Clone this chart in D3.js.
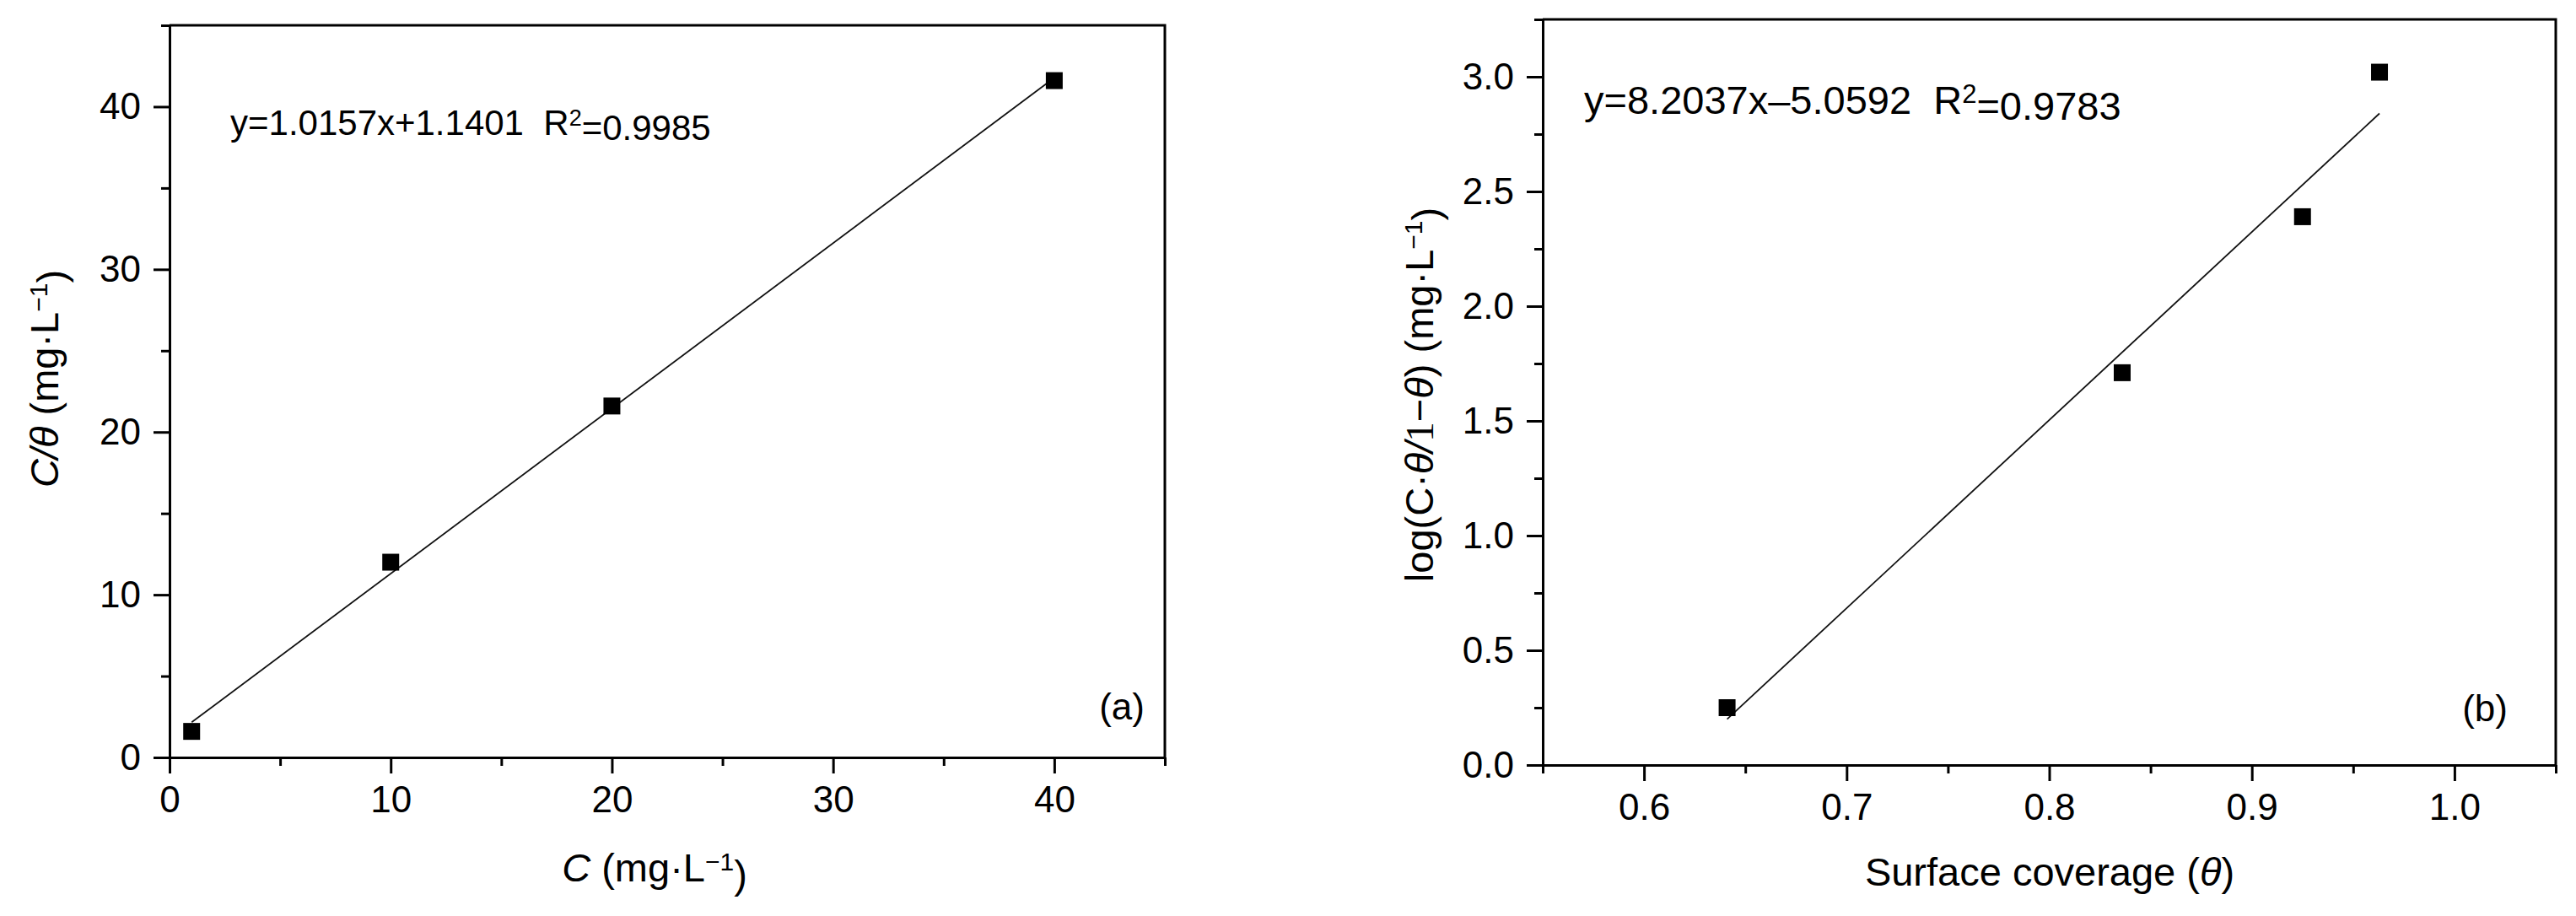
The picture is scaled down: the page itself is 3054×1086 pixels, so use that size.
<!DOCTYPE html>
<html>
<head>
<meta charset="utf-8">
<script src="https://cdn.jsdelivr.net/npm/d3@7"></script>
<style>
body { margin: 0; background: #fff; }
svg text { font-family: "Liberation Sans", Arial, sans-serif; fill: #000; white-space: pre; }
.axis path, .axis line { stroke: #000; stroke-width: 3; }
</style>
</head>
<body>
<div class="chart"></div>
<script>
// panel (a): Langmuir plot
const concA = [1, 10, 20, 40];
const ratioA = [1.6, 12.0, 21.6, 41.6];
const fitAX = [1, 40];
const fitAY = [2.16, 41.77];
const ticksAX = [0, 10, 20, 30, 40];
const ticksAY = [0, 10, 20, 30, 40];
const minorAX = [5, 15, 25, 35, 45];
const minorAY = [5, 15, 25, 35, 45];

// panel (b): Frumkin plot
const coverB = [0.641, 0.836, 0.925, 0.963];
const logB = [0.25, 1.71, 2.39, 3.02];
const fitBX = [0.641, 0.963];
const fitBY = [0.20, 2.84];
const ticksBX = [0.6, 0.7, 0.8, 0.9, 1.0];
const ticksBY = [0, 0.5, 1.0, 1.5, 2.0, 2.5, 3.0];
const minorBX = [0.55, 0.65, 0.75, 0.85, 0.95, 1.05];
const minorBY = [0.25, 0.75, 1.25, 1.75, 2.25, 2.75, 3.25];

const W = 3054, H = 1086;

const svg = d3.select(".chart")
    .append("svg")
    .attr("width", W)
    .attr("height", H);

function drawPanel(o) {
    const x = d3.scaleLinear().domain(o.xDomain).range(o.xRange);
    const y = d3.scaleLinear().domain(o.yDomain).range(o.yRange);
    const g = svg.append("g");

    // minor ticks first, major on top
    g.append("g")
        .attr("class", "axis")
        .attr("transform", `translate(0, ${o.yRange[0]})`)
        .call(d3.axisBottom(x).tickValues(o.minorX).tickSize(10).tickSizeOuter(0).tickFormat(""));
    g.append("g")
        .attr("class", "axis")
        .attr("transform", `translate(${o.xRange[0]}, 0)`)
        .call(d3.axisLeft(y).tickValues(o.minorY).tickSize(10).tickSizeOuter(0).tickFormat(""));

    g.append("g")
        .attr("class", "axis")
        .attr("transform", `translate(0, ${o.yRange[0]})`)
        .call(d3.axisBottom(x).tickValues(o.ticksX).tickSize(19).tickPadding(15).tickSizeOuter(0).tickFormat(o.fmtX))
        .selectAll("text").style("font-size", "44px");
    g.append("g")
        .attr("class", "axis")
        .attr("transform", `translate(${o.xRange[0]}, 0)`)
        .call(d3.axisLeft(y).tickValues(o.ticksY).tickSize(19).tickPadding(15).tickSizeOuter(0).tickFormat(o.fmtY))
        .selectAll("text").style("font-size", "44px");

    // top and right frame
    g.append("path")
        .attr("d", `M${o.xRange[0]},${o.yRange[1]}H${o.xRange[1]}V${o.yRange[0]}`)
        .attr("fill", "none")
        .attr("stroke", "#000")
        .attr("stroke-width", 3);

    // fit line
    g.append("line")
        .attr("x1", x(o.fitX[0])).attr("y1", y(o.fitY[0]))
        .attr("x2", x(o.fitX[1])).attr("y2", y(o.fitY[1]))
        .attr("stroke", "#111")
        .attr("stroke-width", 1.8);

    // data squares
    g.selectAll("rect.pt")
        .data(o.xs.map((v, i) => [v, o.ys[i]]))
        .enter()
        .append("rect")
        .attr("class", "pt")
        .attr("x", d => x(d[0]) - 10)
        .attr("y", d => y(d[1]) - 10)
        .attr("width", 20)
        .attr("height", 20)
        .attr("fill", "#000");

    // equation
    const eq = g.append("text")
        .attr("x", o.eqPos[0]).attr("y", o.eqPos[1])
        .style("font-size", o.eqSize + "px");
    eq.append("tspan").text(o.eq + "  R");
    eq.append("tspan").attr("dy", "-0.42em").style("font-size", Math.round(o.eqSize * 0.65) + "px").text("2");
    eq.append("tspan").attr("dy", "0.42em").text("=" + o.r2);

    // panel letter
    g.append("text")
        .attr("x", o.letterPos[0]).attr("y", o.letterPos[1])
        .attr("text-anchor", "end")
        .style("font-size", "44px")
        .text(o.letter);

    return {x, y, g};
}

const a = drawPanel({
    xDomain: [0, 45], xRange: [201, 1381],
    yDomain: [0, 45], yRange: [898, 30],
    ticksX: ticksAX, ticksY: ticksAY, minorX: minorAX, minorY: minorAY,
    fmtX: d3.format("d"), fmtY: d3.format("d"),
    xs: concA, ys: ratioA, fitX: fitAX, fitY: fitAY,
    eq: "y=1.0157x+1.1401", r2: "0.9985", eqPos: [273, 160], eqSize: 42,
    letter: "(a)", letterPos: [1357, 853]
});

const b = drawPanel({
    xDomain: [0.55, 1.05], xRange: [1829, 3030],
    yDomain: [0, 3.25], yRange: [907, 23],
    ticksX: ticksBX, ticksY: ticksBY, minorX: minorBX, minorY: minorBY,
    fmtX: d3.format(".1f"), fmtY: d3.format(".1f"),
    xs: coverB, ys: logB, fitX: fitBX, fitY: fitBY,
    eq: "y=8.2037x\u20135.0592", r2: "0.9783", eqPos: [1878, 135], eqSize: 47,
    letter: "(b)", letterPos: [2973, 855]
});

// axis titles
function unitTail(t) {
    t.append("tspan").text(" (mg\u00b7L");
    t.append("tspan").attr("dy", "-0.45em").style("font-size", "30px").text("\u22121");
    t.append("tspan").attr("dy", "0.45em").text(")");
}

const xtA = svg.append("text")
    .attr("x", 776).attr("y", 1045)
    .attr("text-anchor", "middle")
    .style("font-size", "47px");
xtA.append("tspan").style("font-style", "italic").text("C");
unitTail(xtA);

const ytA = svg.append("text")
    .attr("transform", "translate(69, 449) rotate(-90)")
    .attr("text-anchor", "middle")
    .style("font-size", "47px");
ytA.append("tspan").style("font-style", "italic").text("C/\u03b8");
unitTail(ytA);

const xtB = svg.append("text")
    .attr("x", 2430).attr("y", 1050)
    .attr("text-anchor", "middle")
    .style("font-size", "47px");
xtB.append("tspan").text("Surface coverage (");
xtB.append("tspan").style("font-style", "italic").text("\u03b8");
xtB.append("tspan").text(")");

const ytB = svg.append("text")
    .attr("transform", "translate(1699, 468) rotate(-90)")
    .attr("text-anchor", "middle")
    .style("font-size", "47px");
ytB.append("tspan").text("log(C\u00b7");
ytB.append("tspan").style("font-style", "italic").text("\u03b8/");
ytB.append("tspan").style("font-family", "'Liberation Serif', serif").text("1");
ytB.append("tspan").text("\u2212");
ytB.append("tspan").style("font-style", "italic").text("\u03b8");
ytB.append("tspan").text(")");
unitTail(ytB);
</script>
</body>
</html>
